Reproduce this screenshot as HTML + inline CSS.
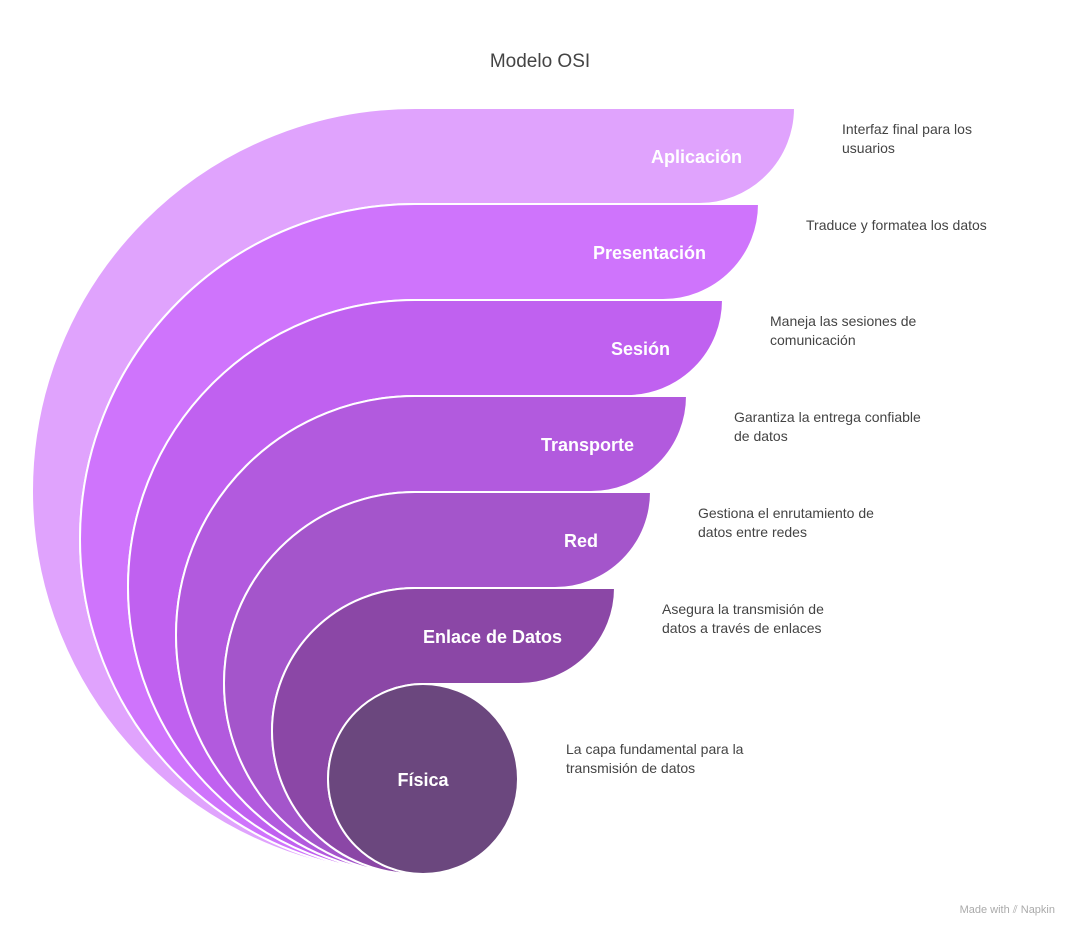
<!DOCTYPE html>
<html><head><meta charset="utf-8"><style>
body{margin:0;background:#fff;width:1080px;height:936px;overflow:hidden;font-family:"Liberation Sans",sans-serif}
</style></head><body>
<svg id="chart" width="1080" height="936">
<text x="540" y="67" text-anchor="middle" font-size="19" fill="#444">Modelo OSI</text>
<g id="layers"></g>
<text x="1055" y="913" text-anchor="end" font-size="11" fill="#aaa">Made with ⫽ Napkin</text>
</svg>
<script>
const layerNames=["Aplicación","Presentación","Sesión","Transporte","Red","Enlace de Datos","Física"];
const layerDescs=[["Interfaz final para los","usuarios"],["Traduce y formatea los datos"],["Maneja las sesiones de","comunicación"],["Garantiza la entrega confiable","de datos"],["Gestiona el enrutamiento de","datos entre redes"],["Asegura la transmisión de","datos a través de enlaces"],["La capa fundamental para la","transmisión de datos"]];
const layerColors=["#E0A3FD","#CF74FC","#C061F0","#B25ADE","#A455CB","#8B47A6","#6B477E"];
const NS="http://www.w3.org/2000/svg";
const g=document.getElementById('layers');
const top0=108,bandH=96,bottomY=874,cx=415,right0=795,step=36,circleShift=8;
const n=layerNames.length;
for(let i=0;i<n;i++){
  const t=top0+i*bandH, b=t+bandH, R=right0-i*step;
  let el;
  const last=i===n-1;
  if(last){
    el=document.createElementNS(NS,'circle');
    el.setAttribute('cx',cx+circleShift);el.setAttribute('cy',(t+bottomY)/2);el.setAttribute('r',(bottomY-t)/2);
  } else {
    const r=(bottomY-t)/2, r2=(bottomY-b)/2;
    const ix=i===n-2?cx+circleShift:cx;
    const d=`M${cx},${bottomY} A${r},${r} 0 0 1 ${cx},${t} L${R},${t} A${bandH},${bandH} 0 0 1 ${R-bandH},${b} L${ix},${b} A${r2},${r2} 0 0 0 ${ix},${bottomY} Z`;
    el=document.createElementNS(NS,'path');el.setAttribute('d',d);
  }
  el.setAttribute('fill',layerColors[i]);el.setAttribute('stroke','#fff');el.setAttribute('stroke-width','2');
  
  
  g.appendChild(el);
  const lab=document.createElementNS(NS,'text');
  if(last){lab.setAttribute('x',cx+circleShift);lab.setAttribute('text-anchor','middle');lab.setAttribute('y',(t+bottomY)/2+7);}
  else{lab.setAttribute('x',R-53);lab.setAttribute('text-anchor','end');lab.setAttribute('y',t+bandH/2+7);}
  lab.setAttribute('font-size','18');lab.setAttribute('font-weight','bold');lab.setAttribute('fill','#fff');
  lab.textContent=layerNames[i];
  
  
  g.appendChild(lab);
  const dx=last?566:R+47;
  layerDescs[i].forEach((ln,k)=>{
    const tx=document.createElementNS(NS,'text');
    tx.setAttribute('x',dx);tx.setAttribute('y',(last?t+70:t+26)+k*19);
    tx.setAttribute('font-size','14');tx.setAttribute('fill','#444');
    tx.textContent=ln;
    
    
    g.appendChild(tx);
  });
}
</script>
</body></html>
